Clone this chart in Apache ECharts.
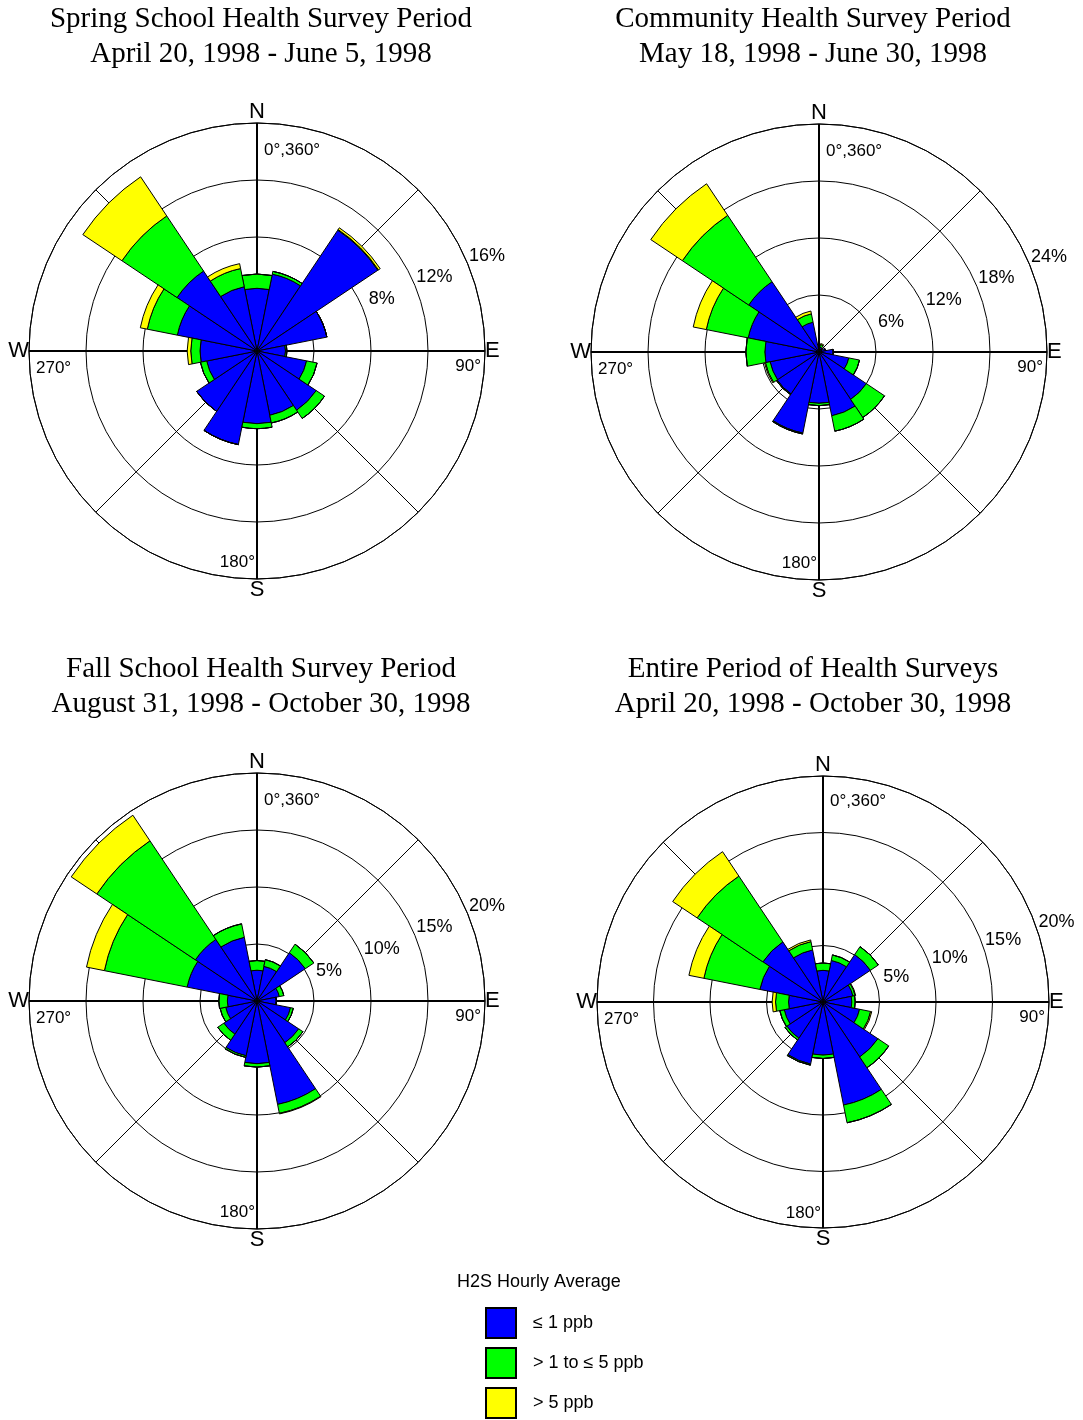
<!DOCTYPE html>
<html>
<head>
<meta charset="utf-8">
<script src="https://cdn.jsdelivr.net/npm/echarts@6/dist/echarts.min.js"></script>
<style>
html,body{margin:0;padding:0;background:#fff;}
#chart{width:1083px;height:1420px;}
</style>
</head>
<body>
<div id="chart"></div>
<script>
// ---------------- DATA ----------------
const directions = ['N','NNE','NE','ENE','E','ESE','SE','SSE','S','SSW','SW','WSW','W','WNW','NW','NNW'];
const levelNames = ['\u2264 1 ppb', '> 1 to \u2264 5 ppb', '> 5 ppb'];
const legendTitle = 'H2S Hourly Average';

const titles = [
  'Spring School Health Survey Period',
  'Community Health Survey Period',
  'Fall School Health Survey Period',
  'Entire Period of Health Surveys'
];
const subtitles = [
  'April 20, 1998 - June 5, 1998',
  'May 18, 1998 - June 30, 1998',
  'August 31, 1998 - October 30, 1998',
  'April 20, 1998 - October 30, 1998'
];

// percent frequency by direction (stacked segments)
const springLe1   = [4.4, 5.5, 10.2, 5.0, 2.0, 3.55, 5.0, 4.6, 5.1, 6.7, 5.1, 3.6, 4.0, 5.7, 6.75, 4.6];
const spring1to5  = [1.0, 0.2, 0.05, 0, 0.1, 0.75, 0.7, 0.55, 0.35, 0, 0, 0.45, 0.65, 2.15, 4.65, 1.3];
const springGt5   = [0, 0, 0.15, 0, 0, 0, 0, 0, 0, 0, 0, 0, 0.25, 0.5, 3.3, 0.35];

const communityLe1  = [0.3, 0.5, 0.3, 0.7, 1.5, 3.2, 6.0, 6.85, 5.4, 8.7, 5.3, 5.25, 5.7, 7.6, 8.9, 3.2];
const community1to5 = [0, 0.3, 0, 0, 0, 1.15, 2.3, 1.65, 0.25, 0.1, 0.1, 0.5, 2.0, 4.5, 8.4, 0.9];
const communityGt5  = [0, 0.1, 0, 0, 0, 0, 0, 0, 0, 0, 0, 0.1, 0, 1.4, 4.0, 0.3];

const fallLe1  = [2.7, 3.1, 5.1, 2.0, 1.7, 3.0, 4.4, 9.25, 5.5, 4.9, 3.5, 2.8, 2.6, 6.25, 6.5, 5.7];
const fall1to5 = [0.85, 0.6, 0.9, 0.4, 0, 0.25, 0.45, 0.8, 0.3, 0.15, 0.65, 0.5, 0.75, 7.4, 10.4, 1.2];
const fallGt5  = [0, 0, 0, 0, 0, 0, 0, 0.05, 0, 0, 0, 0, 0, 1.6, 2.7, 0];

const entireLe1  = [2.8, 3.75, 5.05, 2.7, 2.55, 3.3, 5.85, 9.3, 4.7, 5.6, 3.85, 3.5, 3.05, 5.7, 6.4, 4.7];
const entire1to5 = [0.65, 0.5, 0.85, 0.2, 0.3, 1.0, 1.15, 1.6, 0.3, 0.1, 0.2, 0.4, 1.15, 5.05, 7.0, 0.75];
const entireGt5  = [0, 0, 0, 0.05, 0, 0.1, 0, 0, 0, 0, 0, 0, 0.3, 1.35, 2.6, 0.15];

// radial axis maxima and ring labels
const radiusMax = [16, 24, 20, 20];
const ringLabelsSpring    = ['', '8%', '12%', '16%'];
const ringLabelsCommunity = ['6%', '12%', '18%', '24%'];
const ringLabelsFall      = ['5%', '10%', '15%', '20%'];
const ringLabelsEntire    = ['5%', '10%', '15%', '20%'];
const compassLabels = {0: 'N', 90: 'E', 180: 'S', 270: 'W'};
const degreeLabels = ['0\u00B0,360\u00B0', '90\u00B0', '180\u00B0', '270\u00B0'];

// ---------------- LAYOUT / STYLE ----------------
const colors = ['#0000FF', '#00FF00', '#FFFF00'];
const centers = [[257, 351], [819, 352], [257, 1001], [823, 1002]];
const radii = [228, 228, 228, 226];
const ringLabelAngle = [67.5, 67.5, 67.5, 71];
const titleX = [261, 813, 261, 813];
const titleTop = [2, 2, 652, 652];
const sansFont = '"Liberation Sans", Arial, sans-serif';
const serifFont = '"Liberation Serif", "Times New Roman", serif';

const seriesData = [
  [springLe1, spring1to5, springGt5],
  [communityLe1, community1to5, communityGt5],
  [fallLe1, fall1to5, fallGt5],
  [entireLe1, entire1to5, entireGt5]
];
const ringLabels = [ringLabelsSpring, ringLabelsCommunity, ringLabelsFall, ringLabelsEntire];

const polar = [], angleAxis = [], radiusAxis = [], series = [], graphic = [], title = [];

for (let i = 0; i < 4; i++) {
  const c = centers[i], R = radii[i];
  // data polar (i), cross polar (4+i), diagonal polar (8+i)
  polar[i] = {center: c, radius: R};
  polar[4 + i] = {center: c, radius: R};
  polar[8 + i] = {center: c, radius: R};

  angleAxis[i] = {
    polarIndex: i, type: 'category', data: directions,
    startAngle: 90 + 360 / directions.length / 2, clockwise: true, boundaryGap: true,
    axisLine: {show: true, lineStyle: {color: '#000', width: 1}},
    axisTick: {show: false}, axisLabel: {show: false}, splitLine: {show: false}
  };
  radiusAxis[i] = {
    polarIndex: i, type: 'value', min: 0, max: radiusMax[i], interval: radiusMax[i] / 4,
    axisLine: {show: false}, axisTick: {show: false}, axisLabel: {show: false},
    splitLine: {show: true, lineStyle: {color: '#000', width: 1}}
  };

  angleAxis[4 + i] = {
    polarIndex: 4 + i, type: 'value', min: 0, max: 360, interval: 90, startAngle: 90, clockwise: true,
    axisLine: {show: false}, axisTick: {show: false},
    axisLabel: {show: true, margin: 0, color: '#000', fontSize: 22, fontFamily: sansFont,
      formatter: v => compassLabels[v] || ''},
    splitLine: {show: true, lineStyle: {color: '#000', width: 2}}
  };
  radiusAxis[4 + i] = {polarIndex: 4 + i, type: 'value', min: 0, max: 1, show: false};

  angleAxis[8 + i] = {
    polarIndex: 8 + i, type: 'value', min: 0, max: 360, interval: 45, startAngle: 90, clockwise: true,
    axisLine: {show: false}, axisTick: {show: false}, axisLabel: {show: false},
    splitLine: {show: true, lineStyle: {color: '#000', width: 1}}
  };
  radiusAxis[8 + i] = {polarIndex: 8 + i, type: 'value', min: 0, max: 1, show: false};

  for (let j = 0; j < 3; j++) {
    series.push({
      type: 'bar', coordinateSystem: 'polar', polarIndex: i, stack: 'rose' + i,
      name: levelNames[j], data: seriesData[i][j], barCategoryGap: '0%',
      itemStyle: {color: colors[j], borderColor: '#000', borderWidth: 1},
      emphasis: {disabled: true}, silent: true
    });
  }

  title.push({
    text: titles[i] + '\n' + subtitles[i], left: titleX[i], top: titleTop[i], textAlign: 'center', padding: 0,
    textStyle: {fontFamily: serifFont, fontSize: 29, fontWeight: 'normal', color: '#000', lineHeight: 35}
  });

  // ring percentage labels
  const a = ringLabelAngle[i] * Math.PI / 180;
  ringLabels[i].forEach((t, k) => {
    const r = R * (k + 1) / 4 + 21;
    graphic.push({
      type: 'text', x: c[0] + r * Math.sin(a), y: c[1] - r * Math.cos(a), z: 10,
      style: {text: t, fill: '#000', fontSize: 18, fontFamily: sansFont,
        textAlign: 'center', textVerticalAlign: 'middle', align: 'center', verticalAlign: 'middle'}
    });
  });
  // degree labels
  const degPos = [
    {x: c[0] + 7, y: c[1] - 201, al: 'left'},
    {x: c[0] + R - 4, y: c[1] + 15, al: 'right'},
    {x: c[0] - 2, y: c[1] + 211, al: 'right'},
    {x: c[0] - R + 7, y: c[1] + 17, al: 'left'}
  ];
  degreeLabels.forEach((t, k) => {
    graphic.push({
      type: 'text', x: degPos[k].x, y: degPos[k].y, z: 10,
      style: {text: t, fill: '#000', fontSize: 17, fontFamily: sansFont,
        textAlign: degPos[k].al, textVerticalAlign: 'middle', align: degPos[k].al, verticalAlign: 'middle'}
    });
  });
}

title.push({
  text: legendTitle, left: 457, top: 1273, padding: 0,
  textStyle: {fontFamily: sansFont, fontSize: 18, fontWeight: 'normal', color: '#000'}
});

const option = {
  animation: false,
  backgroundColor: '#fff',
  title: title,
  legend: {
    data: levelNames, orient: 'vertical', left: 485, top: 1307, height: 140, padding: 0,
    itemWidth: 30, itemHeight: 30, itemGap: 8, icon: 'rect', selectedMode: false,
    textStyle: {fontSize: 18, fontFamily: sansFont, color: '#000', padding: [0, 0, 0, 12]}
  },
  polar: polar,
  angleAxis: angleAxis,
  radiusAxis: radiusAxis,
  series: series,
  graphic: graphic
};

const chart = echarts.init(document.getElementById('chart'), null, {renderer: 'canvas'});
chart.setOption(option);
</script>
</body>
</html>
